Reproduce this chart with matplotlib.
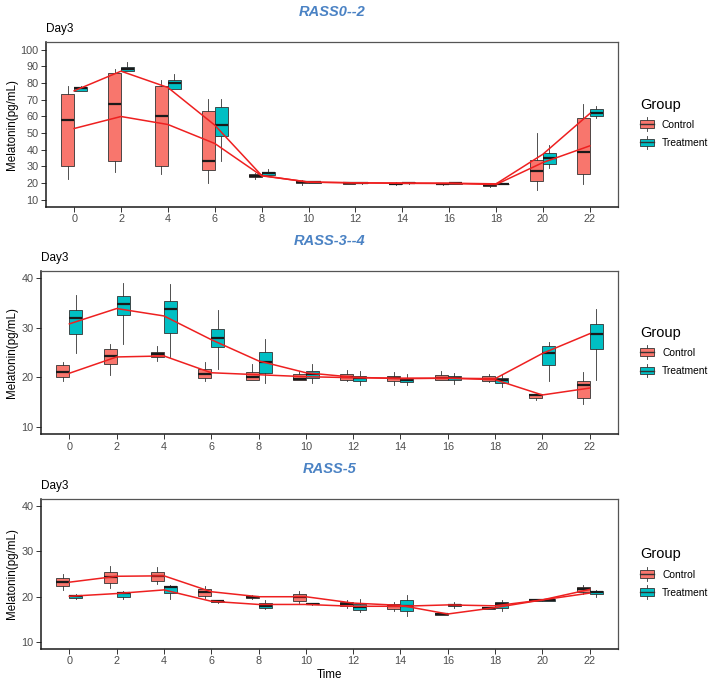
import matplotlib
matplotlib.use("Agg")
import matplotlib.pyplot as plt
from matplotlib.legend_handler import HandlerBase
from matplotlib.patches import Patch, Rectangle
from matplotlib.lines import Line2D
from matplotlib.transforms import blended_transform_factory

plt.rcParams['font.family'] = ['Liberation Sans', 'DejaVu Sans']

# x values (hours)
time = [0, 2, 4, 6, 8, 10, 12, 14, 16, 18, 20, 22]
groups = ["Control", "Treatment"]

# each box: (whisker low, q1, median, q3, whisker high)
# RASS0--2
p1_control = [(22.6, 30.4, 58.0, 73.6, 78.0), (26.6, 33.0, 67.6, 86.2, 88.2),
              (25.4, 30.4, 60.2, 78.4, 82.0), (20.0, 28.0, 33.4, 63.2, 70.2),
              (22.6, 23.4, 24.4, 25.4, 26.0), (19.0, 19.8, 20.5, 21.3, 22.0),
              (19.2, 19.5, 19.9, 20.3, 20.6), (19.0, 19.2, 19.6, 20.0, 20.3),
              (19.0, 19.2, 19.5, 19.9, 20.2), (17.8, 18.0, 18.8, 19.6, 19.8),
              (15.6, 21.4, 27.4, 33.6, 50.0), (19.4, 25.4, 38.6, 59.0, 67.4)]
p1_treatment = [(75.2, 75.4, 76.8, 77.8, 78.4), (87.0, 87.0, 88.6, 89.8, 92.4),
                (76.6, 76.6, 80.0, 82.0, 85.4), (33.4, 48.2, 54.6, 65.6, 70.2),
                (25.0, 25.0, 25.8, 26.6, 28.2), (19.8, 20.0, 20.4, 20.8, 21.2),
                (19.6, 19.8, 20.0, 20.3, 20.5), (19.5, 19.7, 20.0, 20.3, 20.5),
                (19.4, 19.6, 19.8, 20.1, 20.3), (19.3, 19.4, 19.5, 19.6, 19.7),
                (29.2, 31.2, 35.2, 38.2, 42.6), (59.0, 60.2, 62.2, 64.6, 66.4)]
p1_control_mean = [52.6, 59.8, 55.0, 43.6, 24.2, 20.5, 20.0, 19.7, 19.6, 19.0, 32.2, 42.2]
p1_treatment_mean = [75.2, 87.0, 77.2, 54.6, 24.4, 20.4, 20.0, 19.9, 19.8, 19.4, 37.2, 61.6]

# RASS-3--4
p2_control = [(19.3, 20.0, 21.1, 22.4, 23.1), (20.5, 22.6, 24.3, 25.7, 26.7),
              (23.3, 24.1, 24.7, 25.2, 26.3), (19.3, 19.8, 20.6, 21.7, 23.1),
              (19.5, 19.5, 20.0, 21.1, 22.6), (19.5, 19.5, 19.6, 20.6, 21.3),
              (19.3, 19.5, 20.1, 20.6, 21.4), (18.5, 19.3, 19.8, 20.2, 21.1),
              (19.4, 19.4, 19.9, 20.4, 21.2), (19.1, 19.3, 19.7, 20.2, 20.7),
              (15.4, 15.8, 16.3, 16.6, 16.6), (14.6, 15.8, 18.4, 19.3, 21.1)]
p2_treatment = [(24.9, 28.7, 32.0, 33.6, 36.7), (26.8, 32.5, 34.8, 36.4, 39.1),
                (24.1, 29.0, 33.8, 35.5, 38.9), (21.7, 26.1, 28.0, 29.7, 33.6),
                (18.8, 20.8, 23.1, 25.2, 27.8), (18.8, 19.9, 20.6, 21.3, 22.7),
                (18.4, 19.3, 19.8, 20.3, 21.3), (18.5, 19.0, 19.4, 19.8, 20.6),
                (18.6, 19.5, 19.9, 20.3, 20.9), (18.0, 18.8, 19.4, 19.8, 20.7),
                (19.3, 22.4, 24.9, 26.3, 27.1), (19.4, 25.7, 28.8, 30.8, 33.9)]
p2_control_mean = [20.8, 24.1, 24.3, 20.9, 20.5, 20.1, 19.9, 19.8, 19.8, 19.5, 16.4, 17.8]
p2_treatment_mean = [30.8, 33.9, 32.4, 27.6, 23.3, 20.9, 20.0, 19.7, 19.8, 19.7, 24.8, 28.8]

# RASS-5
p3_control = [(21.4, 22.3, 23.2, 24.1, 25.0), (21.9, 23.0, 24.4, 25.5, 26.8),
              (22.7, 23.5, 24.6, 25.4, 26.5), (19.8, 20.2, 21.0, 21.7, 22.4),
              (19.5, 19.7, 19.9, 20.2, 20.4), (18.6, 19.1, 20.0, 20.5, 21.2),
              (17.5, 18.05, 18.4, 18.85, 19.3), (16.9, 17.3, 17.9, 18.3, 18.9),
              (15.9, 16.0, 16.2, 16.4, 16.5), (17.2, 17.3, 17.5, 17.7, 17.8),
              (19.0, 19.1, 19.3, 19.5, 19.6), (20.7, 21.0, 21.6, 22.1, 22.5)]
p3_treatment = [(19.5, 19.7, 20.1, 20.4, 20.6), (19.5, 19.9, 20.75, 21.0, 21.2),
                (19.6, 20.75, 22.2, 22.4, 22.6), (18.7, 18.8, 19.0, 19.1, 19.2),
                (17.4, 17.5, 18.0, 18.6, 19.3), (18.1, 18.3, 18.4, 18.6, 18.7),
                (16.6, 17.0, 17.75, 18.5, 19.4), (15.7, 16.8, 18.0, 19.2, 20.4),
                (17.6, 17.9, 18.2, 18.5, 18.8), (16.9, 17.5, 18.3, 18.85, 19.2),
                (19.0, 19.1, 19.3, 19.5, 19.6), (19.9, 20.5, 21.0, 21.3, 21.5)]
p3_control_mean = [23.2, 24.5, 24.6, 21.1, 20.0, 20.0, 18.6, 18.1, 16.2, 17.6, 19.3, 21.6]
p3_treatment_mean = [20.1, 20.7, 21.5, 19.0, 18.3, 18.3, 17.9, 17.9, 18.2, 18.0, 19.3, 20.8]

titles = ["RASS0--2", "RASS-3--4", "RASS-5"]
y_limits = [(10, 100), (10, 40), (10, 40)]
y_ticks = [list(range(10, 101, 10)), [10, 20, 30, 40], [10, 20, 30, 40]]

colors = {"Control": "#F8766D", "Treatment": "#00BFC4"}
edge = "#333333"
title_blue = "#4A82C4"
tick_grey = "#4D4D4D"


# legend key that looks like ggplot's boxplot key
class BoxKey(HandlerBase):
    def create_artists(self, legend, orig_handle, xdescent, ydescent,
                       width, height, fontsize, trans):
        x0, y0 = -xdescent, -ydescent
        cx, cy = x0 + width / 2, y0 + height / 2
        bh = height * 0.8
        whisk = Line2D([cx, cx], [cy - height * 0.7, cy + height * 0.7],
                       color=edge, lw=0.6, transform=trans)
        rect = Rectangle((x0, cy - bh / 2), width, bh,
                         facecolor=orig_handle.get_facecolor(), edgecolor=edge,
                         lw=0.6, transform=trans)
        med = Line2D([x0, x0 + width], [cy, cy], color=edge, lw=1.0, transform=trans)
        return [whisk, rect, med]


def box_stats(rows):
    return [dict(whislo=r[0], q1=r[1], med=r[2], q3=r[3], whishi=r[4], fliers=[])
            for r in rows]


def draw_panel(ax, ctrl, treat, ctrl_mean, treat_mean, title, ylim, yticks):
    for grp, rows, shift in [("Control", ctrl, -0.275), ("Treatment", treat, 0.275)]:
        ax.bxp(box_stats(rows), positions=[t + shift for t in time], widths=0.55,
               patch_artist=True, showcaps=False, showfliers=False,
               boxprops=dict(facecolor=colors[grp], edgecolor=edge, lw=0.6),
               whiskerprops=dict(color=edge, lw=0.6),
               medianprops=dict(color="#1a1a1a", lw=1.6))
    ax.plot(time, ctrl_mean, color="#EE2020", lw=1.1, zorder=5)
    ax.plot(time, treat_mean, color="#EE2020", lw=1.1, zorder=5)

    rng = ylim[1] - ylim[0]
    ax.set_ylim(ylim[0] - 0.05 * rng, ylim[1] + 0.05 * rng)
    ax.set_yticks(yticks)
    ax.set_xlim(-1.2, 23.2)
    ax.set_xticks(time)
    ax.set_xticklabels([str(t) for t in time])
    ax.tick_params(axis="both", labelsize=7.8, labelcolor=tick_grey, color=edge,
                   length=3.4, width=0.7, pad=2)
    for sp in ax.spines.values():
        sp.set_color("#555555")
        sp.set_linewidth(0.9)
    for side in ["left", "bottom"]:
        ax.spines[side].set_color("#1a1a1a")
        ax.spines[side].set_linewidth(1.1)

    ax.annotate(title, xy=(0.5, 1), xycoords="axes fraction", xytext=(0, 21.5),
                textcoords="offset points", ha="center", va="center",
                fontsize=10.5, fontweight="bold", fontstyle="italic", color=title_blue)
    ax.annotate("Day3", xy=(0, 1), xycoords="axes fraction", xytext=(0, 9.5),
                textcoords="offset points", ha="left", va="center", fontsize=8.5)

    ax.set_ylabel("Melatonin(pg/mL)", fontsize=8.4)
    ax.yaxis.set_label_coords(18 / 708, 0.5,
                              transform=blended_transform_factory(fig.transFigure, ax.transAxes))

    handles = [Patch(facecolor=colors[g]) for g in groups]
    leg = ax.legend(handles, groups, title="Group", loc="center left",
                    bbox_to_anchor=(1.03, 0.51), frameon=False, fontsize=7.4,
                    title_fontsize=10.5, handler_map={Patch: BoxKey()},
                    handlelength=1.3, handleheight=1.1, handletextpad=0.8,
                    labelspacing=0.75, borderpad=0, alignment="left")
    return leg


fig = plt.figure(figsize=(7.08, 6.88), dpi=100)
ax1 = fig.add_axes([46 / 708, 1 - 207 / 688, 572 / 708, 165 / 688])
ax2 = fig.add_axes([41 / 708, 1 - 434 / 688, 577 / 708, 163 / 688])
ax3 = fig.add_axes([41 / 708, 1 - 649 / 688, 577 / 708, 150 / 688])

draw_panel(ax1, p1_control, p1_treatment, p1_control_mean, p1_treatment_mean,
           titles[0], y_limits[0], y_ticks[0])
draw_panel(ax2, p2_control, p2_treatment, p2_control_mean, p2_treatment_mean,
           titles[1], y_limits[1], y_ticks[1])
draw_panel(ax3, p3_control, p3_treatment, p3_control_mean, p3_treatment_mean,
           titles[2], y_limits[2], y_ticks[2])
ax3.set_xlabel("Time", fontsize=8.4, labelpad=2)

fig.savefig("out.png", dpi=100)
